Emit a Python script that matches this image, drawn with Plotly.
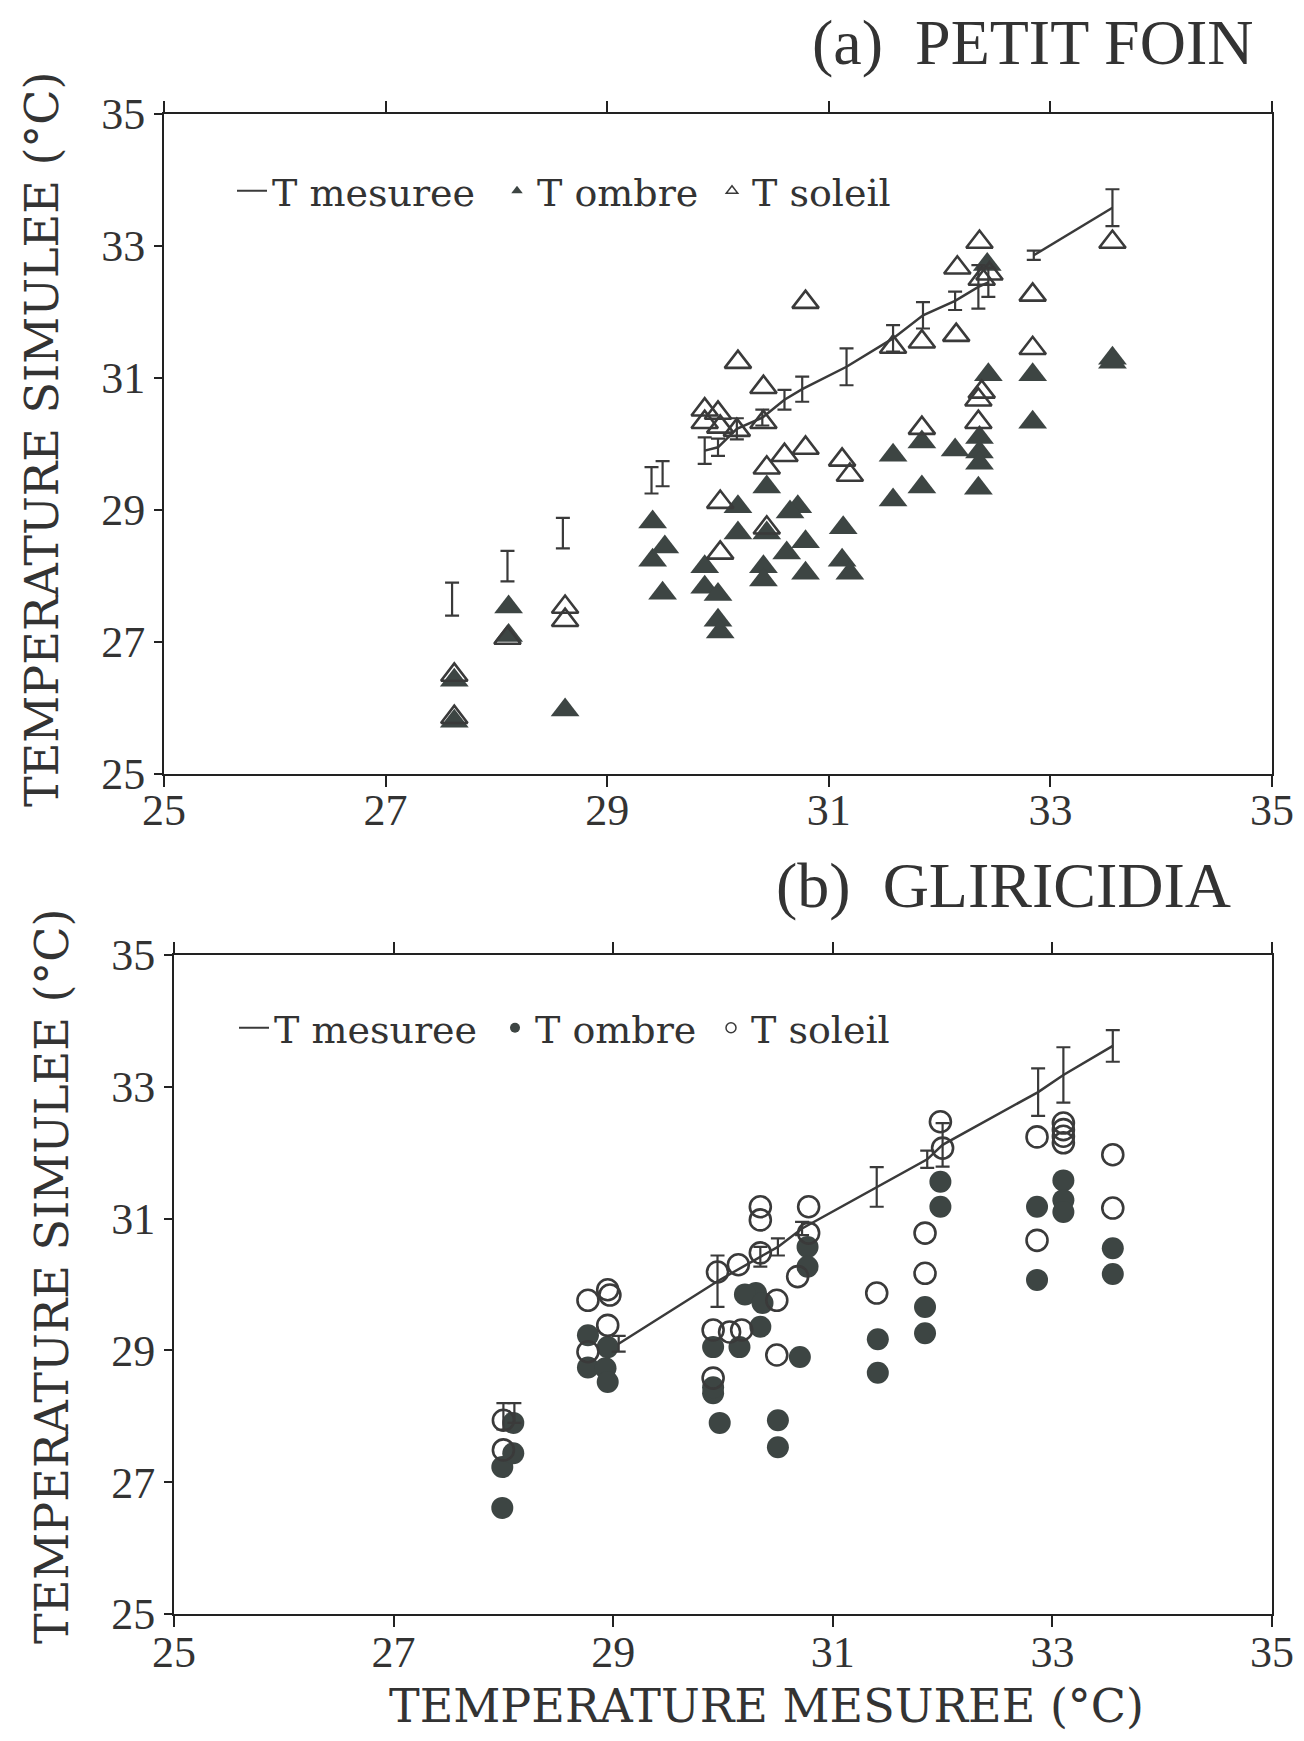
import plotly.graph_objects as go

# ── Data: panel (a) PETIT FOIN ────────────────────────────────────────────────
a_mes_x = [27.6, 28.1, 28.6, 29.4, 29.5, 29.88, 30.0, 30.17, 30.4, 30.6, 30.76,
           31.16, 31.58, 31.85, 32.14, 32.35, 32.44, 32.85, 33.56]
a_mes_y = [27.65, 28.15, 28.65, 29.45, 29.55, 29.9, 29.95, 30.23, 30.4, 30.67,
           30.83, 31.17, 31.6, 31.95, 32.17, 32.38, 32.45, 32.86, 33.58]
a_mes_err = [0.25, 0.23, 0.23, 0.2, 0.19, 0.2, 0.13, 0.16, 0.12, 0.15, 0.19,
             0.28, 0.2, 0.2, 0.14, 0.33, 0.22, 0.07, 0.28]
# segment id of the joining line (0 = point not joined)
a_mes_seg = [0, 0, 0, 0, 0, 1, 1, 1, 1, 1, 1, 1, 1, 1, 1, 1, 1, 2, 2]

a_ombre_x = [27.62, 27.62, 28.11, 28.11, 28.62, 29.41, 29.41, 29.52, 29.5,
             29.88, 29.88, 30.0, 30.0, 30.02, 30.18, 30.44, 30.18, 30.44, 30.72,
             30.65, 30.79, 30.62, 30.41, 30.41, 30.79, 31.13, 31.12, 31.19,
             31.58, 31.58, 31.84, 31.84, 32.44, 32.84, 32.84, 33.56, 33.56,
             32.36, 32.36, 32.36, 32.14, 32.35, 32.43]
a_ombre_y = [26.42, 25.8, 27.53, 27.1, 25.97, 28.82, 28.24, 28.44, 27.74,
             28.14, 27.83, 27.72, 27.33, 27.15, 29.05, 29.35, 28.65, 28.65, 29.05,
             28.97, 28.52, 28.35, 28.14, 27.94, 28.04, 28.73, 28.24, 28.04,
             29.83, 29.15, 29.35, 30.03, 31.05, 31.05, 30.33, 31.3, 31.24,
             30.1, 29.88, 29.71, 29.91, 29.33, 32.72]

a_soleil_x = [27.62, 27.62, 28.1, 28.62, 28.62, 29.88, 29.88, 30.0, 30.02, 30.17,
              30.18, 30.41, 30.41, 30.6, 30.79, 30.44, 31.12, 31.19, 31.84, 30.02,
              30.44, 30.02, 30.79, 31.58, 31.84, 32.15, 32.16, 32.36, 32.45,
              32.38, 32.84, 32.84, 33.56, 32.35, 32.38, 32.35]
a_soleil_y = [26.5, 25.86, 27.06, 27.53, 27.33, 30.52, 30.33, 30.47, 30.26, 30.21,
              31.24, 30.86, 30.33, 29.83, 29.94, 29.64, 29.76, 29.53, 30.24, 29.12,
              28.73, 28.35, 32.15, 31.47, 31.55, 31.65, 32.67, 33.06, 32.58,
              32.5, 32.26, 31.45, 33.06, 30.67, 30.79, 30.33]

# ── Data: panel (b) GLIRICIDIA ────────────────────────────────────────────────
b_mes_x = [28.0, 28.1, 29.05, 29.95, 30.34, 30.5, 30.72, 31.4, 31.86, 32.0,
           32.87, 33.1, 33.55]
b_mes_y = [28.0, 28.05, 29.1, 30.05, 30.42, 30.57, 30.85, 31.48, 31.9, 32.12,
           32.92, 33.18, 33.62]
b_mes_err = [0.2, 0.15, 0.12, 0.39, 0.15, 0.13, 0.1, 0.3, 0.13, 0.33, 0.36,
             0.42, 0.24]
b_mes_seg = [0, 0, 1, 1, 1, 1, 1, 1, 1, 1, 1, 1, 1]

b_ombre_x = [27.99, 27.99, 28.09, 28.09, 28.77, 28.95, 28.77, 28.93, 28.95,
             29.91, 30.15, 30.34, 30.3, 30.2, 30.36, 29.91, 29.91, 29.97, 30.5,
             30.5, 30.7, 30.77, 30.77, 31.41, 31.41, 31.84, 31.84, 31.98, 31.98,
             32.86, 32.86, 33.1, 33.1, 33.1, 33.55, 33.55]
b_ombre_y = [26.61, 27.23, 27.44, 27.9, 29.23, 29.05, 28.74, 28.73, 28.52,
             29.05, 29.05, 29.36, 29.87, 29.85, 29.72, 28.35, 28.44, 27.9, 27.94,
             27.53, 28.9, 30.57, 30.27, 29.17, 28.66, 29.66, 29.26, 31.56, 31.18,
             31.18, 30.07, 31.58, 31.28, 31.1, 30.55, 30.16]

b_soleil_x = [28.0, 28.0, 28.77, 28.95, 28.97, 28.95, 28.77, 29.91, 30.06, 29.91,
              30.49, 30.34, 30.34, 30.78, 30.78, 30.34, 30.14, 29.95, 30.68,
              30.49, 30.17, 31.4, 31.84, 31.84, 31.98, 32.0, 32.86, 33.1, 33.1,
              33.1, 33.1, 33.55, 33.55, 32.86]
b_soleil_y = [27.94, 27.49, 29.76, 29.92, 29.84, 29.38, 28.98, 29.31, 29.28, 28.58,
              28.93, 31.18, 30.98, 31.18, 30.78, 30.48, 30.3, 30.19, 30.12,
              29.76, 29.31, 29.87, 30.78, 30.17, 32.47, 32.07, 32.24, 32.45, 32.35,
              32.25, 32.15, 31.97, 31.16, 30.67]

tick_vals = [25, 27, 29, 31, 33, 35]

INK = '#3a3a3a'
DOT = '#3d4543'
TICK_FONT = dict(family='Liberation Serif', size=44, color='#333')
LEG_FONT = dict(family='DejaVu Serif', size=38, color='#333')

# page has an 8px body margin; the figure is sized to sit inside it
OFF = 8
W, H = 1304 - 2 * OFF, 1741 - 2 * OFF


def px(x):
    return (x - OFF) / W


def py(y):
    return 1 - (y - OFF) / H


def joined(xs, ys, seg):
    """Line coordinates with gaps between segments (seg 0 = not joined)."""
    lx, ly, prev = [], [], None
    for x, y, s in zip(xs, ys, seg):
        if s == 0:
            continue
        if prev is not None and s != prev:
            lx.append(None)
            ly.append(None)
        lx.append(x)
        ly.append(y)
        prev = s
    return lx, ly


def add_panel(fig, n, mx, my, merr, mseg, ox, oy, sx, sy, filled, hollow,
              fsize, hsize, legends):
    xa, ya = ('x', 'y') if n == 1 else ('x2', 'y2')
    lx, ly = joined(mx, my, mseg)
    fig.add_trace(go.Scatter(x=ox, y=oy, mode='markers', xaxis=xa, yaxis=ya,
                             marker=dict(symbol=filled, size=fsize, color=DOT,
                                         line=dict(width=0)),
                             showlegend=False))
    fig.add_trace(go.Scatter(x=sx, y=sy, mode='markers', xaxis=xa, yaxis=ya,
                             marker=dict(symbol=hollow, size=hsize, color=INK,
                                         line=dict(width=2.6, color=INK)),
                             showlegend=False))
    fig.add_trace(go.Scatter(x=lx, y=ly, mode='lines', xaxis=xa, yaxis=ya,
                             line=dict(color=INK, width=2.5),
                             showlegend=False))
    fig.add_trace(go.Scatter(x=mx, y=my, mode='markers', xaxis=xa, yaxis=ya,
                             marker=dict(size=1, color=INK),
                             error_y=dict(type='data', array=merr, visible=True,
                                          color=INK, thickness=2.2, width=7),
                             showlegend=False))
    # legend-only entries (small symbols like the original key), one legend each
    fig.add_trace(go.Scatter(x=[None], y=[None], mode='lines', xaxis=xa, yaxis=ya,
                             name='T mesuree', legend=legends[0],
                             line=dict(color=INK, width=2)))
    fig.add_trace(go.Scatter(x=[None], y=[None], mode='markers', xaxis=xa, yaxis=ya,
                             name='T ombre', legend=legends[1],
                             marker=dict(symbol=filled, size=10, color=DOT)))
    fig.add_trace(go.Scatter(x=[None], y=[None], mode='markers', xaxis=xa, yaxis=ya,
                             name='T soleil', legend=legends[2],
                             marker=dict(symbol=hollow, size=10, color=INK,
                                         line=dict(width=1.5, color=INK))))


fig = go.Figure()
add_panel(fig, 1, a_mes_x, a_mes_y, a_mes_err, a_mes_seg,
          a_ombre_x, a_ombre_y, a_soleil_x, a_soleil_y,
          'triangle-up', 'triangle-up-open', 25, 23,
          ['legend', 'legend2', 'legend3'])
add_panel(fig, 2, b_mes_x, b_mes_y, b_mes_err, b_mes_seg,
          b_ombre_x, b_ombre_y, b_soleil_x, b_soleil_y,
          'circle', 'circle-open', 22, 21,
          ['legend4', 'legend5', 'legend6'])

axis_common = dict(range=[25, 35], tickvals=tick_vals, showgrid=False,
                   zeroline=False, showline=True, linecolor='#222', linewidth=2,
                   tickcolor='#222', tickwidth=2, tickfont=TICK_FONT,
                   automargin=False)
inner_ticks = dict(range=[25, 35], tickvals=tick_vals, showgrid=False,
                   zeroline=False, showline=False, showticklabels=False,
                   ticks='inside', tickcolor='#222', tickwidth=2,
                   automargin=False)


def leg(x, y):
    return dict(orientation='h', x=px(x), y=py(y), xanchor='left',
                yanchor='middle', font=LEG_FONT, bgcolor='rgba(0,0,0,0)',
                itemwidth=30)


fig.update_layout(
    width=W, height=H,
    margin=dict(l=0, r=0, t=0, b=0, autoexpand=False),
    paper_bgcolor='white', plot_bgcolor='white',
    xaxis=dict(domain=[px(164), px(1272)], anchor='y', ticks='outside',
               ticklen=11, mirror='ticks', ticklabelstandoff=-15,
               **axis_common),
    yaxis=dict(domain=[py(774), py(114)], anchor='x', ticks='outside',
               ticklen=8, mirror=True, **axis_common),
    xaxis2=dict(domain=[px(174), px(1272)], anchor='y2', ticks='outside',
                ticklen=11, mirror='ticks', ticklabelstandoff=-13,
                **axis_common),
    yaxis2=dict(domain=[py(1614), py(955)], anchor='x2', ticks='outside',
                ticklen=8, mirror=True, **axis_common),
    xaxis3=dict(overlaying='x', anchor='y', ticklen=11, mirror='ticks',
                **inner_ticks),
    xaxis4=dict(overlaying='x2', anchor='y2', ticklen=11, mirror='ticks',
                **inner_ticks),
    legend=leg(232, 191), legend2=leg(497, 191), legend3=leg(712, 191),
    legend4=leg(234, 1028), legend5=leg(495, 1028), legend6=leg(711, 1028),
)

title_font = dict(family='Liberation Serif', size=64, color='#333')
label_font = dict(family='DejaVu Serif', size=46, color='#333')
fig.add_annotation(text='(a)  PETIT FOIN', xref='paper', yref='paper',
                   x=px(1255), y=py(43), xanchor='right', yanchor='middle',
                   showarrow=False, font=title_font)
fig.add_annotation(text='(b)  GLIRICIDIA', xref='paper', yref='paper',
                   x=px(1233), y=py(885), xanchor='right', yanchor='middle',
                   showarrow=False, font=title_font)
fig.add_annotation(text='TEMPERATURE SIMULEE (°C)', xref='paper', yref='paper',
                   x=px(42), y=py(440), textangle=-90, showarrow=False,
                   xanchor='center', yanchor='middle', font=label_font)
fig.add_annotation(text='TEMPERATURE SIMULEE (°C)', xref='paper', yref='paper',
                   x=px(52), y=py(1277), textangle=-90, showarrow=False,
                   xanchor='center', yanchor='middle', font=label_font)
fig.add_annotation(text='TEMPERATURE MESUREE (°C)', xref='paper', yref='paper',
                   x=px(766), y=py(1706), showarrow=False,
                   xanchor='center', yanchor='middle',
                   font=dict(family='DejaVu Serif', size=46, color='#333'))

fig.write_html("out.html")
